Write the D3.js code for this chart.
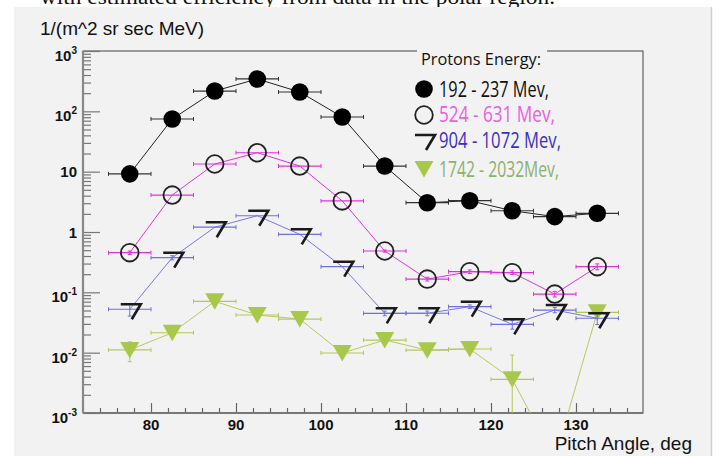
<!DOCTYPE html>
<html><head><meta charset="utf-8">
<script src="https://cdn.jsdelivr.net/npm/d3@7"></script>
<style>html,body{margin:0;padding:0;background:#fff;}svg{display:block;}</style>
</head><body>
<svg id="c" width="717" height="456"></svg>
<script>
// ---- data ----
const pitchAngles = [77.5, 82.5, 87.5, 92.5, 97.5, 102.5, 107.5, 112.5, 117.5, 122.5, 127.5, 132.5];
const halfBin = 2.5;
const flux192 = [9.2, 74.6, 217, 344, 209, 80.6, 12.4, 3.06, 3.30, 2.25, 1.80, 2.04];
const flux524 = [0.454, 4.10, 13.4, 20.6, 12.4, 3.27, 0.484, 0.166, 0.220, 0.212, 0.0937, 0.266];
const err524  = [0.03, 0, 0, 0, 0, 0, 0.02, 0.012, 0.015, 0.015, 0.01, 0.03];
const flux904 = [0.0524, 0.375, 1.20, 1.86, 0.916, 0.266, 0.0449, 0.045, 0.0578, 0.0295, 0.0509, 0.0372];
const err904  = [0.012, 0.03, 0, 0, 0, 0, 0.004, 0.004, 0.004, 0.005, 0.005, 0.008];
const flux1742 = [0.0111, 0.0214, 0.0709, 0.0421, 0.0361, 0.00987, 0.0162, 0.0110, 0.0115, 0.00362, 0.000173, 0.0467];
const err1742  = [0.004, 0, 0, 0, 0, 0, 0, 0, 0, 0.0055, 0, 0.005];
const seriesNames = ["192 - 237 Mev,", "524 - 631 Mev,", "904 - 1072 Mev,", "1742 - 2032Mev,"];
const yTickExps = [-3, -2, -1, 0, 1, 2, 3];
const xTicks = [80, 90, 100, 110, 120, 130];
const yTitle = "1/(m^2 sr sec MeV)";
const xTitle = "Pitch Angle, deg";
const legendTitle = "Protons Energy:";
const pageText = "with estimated efficiency from data in the polar region.";

// ---- layout ----
const svg = d3.select("#c");
const L = 83, R = 643, T = 51, B = 413;
const x = d3.scaleLinear().domain([72, 138]).range([L, L + 66 * 8.5]);
const y = d3.scaleLog().domain([1e-3, 1e3]).range([B, T]);

// page text at the very top (cut)
svg.append("text").attr("x", 40).attr("y", 4).attr("font-family", "Liberation Serif")
  .attr("font-size", 21).attr("textLength", 515).attr("lengthAdjust", "spacingAndGlyphs")
  .attr("fill", "#111").text(pageText);

// panel
svg.append("rect").attr("x", 14).attr("y", 7).attr("width", 697).attr("height", 449).attr("fill", "#f2f2f2");
svg.append("line").attr("x1", 711.5).attr("x2", 711.5).attr("y1", 7).attr("y2", 456).attr("stroke", "#cfcfcf").attr("stroke-width", 1.5);

// frame
svg.append("rect").attr("x", L).attr("y", T).attr("width", R - L).attr("height", B - T)
  .attr("fill", "none").attr("stroke", "#444").attr("stroke-width", 1);

// x axis
const xMinor = d3.range(74, 138, 2).filter(v => v % 10 !== 0);
const gx = svg.append("g").attr("transform", `translate(0,${B})`);
gx.call(d3.axisBottom(x).tickValues(xTicks).tickSize(-10).tickFormat(""));
gx.append("g").call(d3.axisBottom(x).tickValues(xMinor).tickSize(-5).tickFormat(""));
gx.selectAll(".domain").remove();
gx.selectAll("line").attr("stroke", "#666").attr("stroke-width", 1.2);
svg.append("line").attr("x1", L).attr("x2", R).attr("y1", B).attr("y2", B).attr("stroke", "#777").attr("stroke-width", 2);
svg.selectAll(".xl").data(xTicks).join("text").attr("x", d => x(d)).attr("y", B + 17)
  .attr("text-anchor", "middle").attr("font-family", "Liberation Sans, Arial").attr("font-weight", "bold")
  .attr("font-size", 15).attr("fill", "#111").text(d => d);

// y axis
const yMinor = [];
for (let e = -3; e < 3; e++) for (let m = 2; m <= 9; m++) yMinor.push(m * Math.pow(10, e));
const gy = svg.append("g").attr("transform", `translate(${L},0)`);
gy.call(d3.axisLeft(y).tickValues(yTickExps.map(e => Math.pow(10, e))).tickSize(-17).tickFormat(""));
gy.append("g").call(d3.axisLeft(y).tickValues(yMinor).tickSize(-8).tickFormat(""));
gy.selectAll(".domain").remove();
gy.selectAll("line").attr("stroke", "#777").attr("stroke-width", 1.2);
svg.append("line").attr("x1", L).attr("x2", L).attr("y1", T).attr("y2", B).attr("stroke", "#888").attr("stroke-width", 2.2);
yTickExps.forEach(e => {
  const v = Math.pow(10, e);
  const t = svg.append("text").attr("text-anchor", "end").attr("font-family", "Liberation Sans, Arial")
    .attr("font-weight", "bold").attr("font-size", 15).attr("fill", "#111").attr("x", 77);
  if (e === 0 || e === 1) {
    t.attr("y", y(v) + 5.5).text(e === 0 ? "1" : "10");
  } else {
    t.attr("y", y(v) + 10);
    t.append("tspan").text("10");
    t.append("tspan").attr("font-size", 10).attr("dy", -7).text(String(e));
  }
});

// titles
svg.append("text").attr("x", 40).attr("y", 35).attr("font-family", "Liberation Sans, Arial")
  .attr("font-size", 19).attr("fill", "#111").text(yTitle);
svg.append("text").attr("x", 692).attr("y", 450).attr("text-anchor", "end").attr("font-family", "Liberation Sans, Arial")
  .attr("font-size", 19).attr("fill", "#111").text(xTitle);

// ---- series ----
svg.append("clipPath").attr("id", "pa").append("rect").attr("x", L).attr("y", T).attr("width", R - L).attr("height", B - T);
const plot = svg.append("g").attr("clip-path", "url(#pa)");

const markers = {
  filled: g => g.append("circle").attr("r", 8.8).attr("fill", "#000"),
  open: g => g.append("circle").attr("r", 8.8).attr("fill", "none").attr("stroke", "#222").attr("stroke-width", 1.8),
  seven: g => g.append("path").attr("d", "M-9,-5 H11 L2,10").attr("fill", "none").attr("stroke", "#1a1a1a").attr("stroke-width", 2.6),
  tri: g => g.append("path").attr("d", "M-9.5,-8 H9.5 L0,8.5 Z").attr("fill", "#a9c84b")
};

function drawSeries(vals, errs, lineColor, errColor, lw, marker) {
  const g = plot.append("g");
  const line = d3.line().x((d, i) => x(pitchAngles[i])).y(d => y(d));
  g.append("path").attr("d", line(vals)).attr("fill", "none").attr("stroke", lineColor).attr("stroke-width", lw);
  vals.forEach((v, i) => {
    const cx = x(pitchAngles[i]), cy = y(v);
    const x0 = x(pitchAngles[i] - halfBin), x1 = x(pitchAngles[i] + halfBin);
    g.append("line").attr("x1", x0).attr("x2", x1).attr("y1", cy).attr("y2", cy).attr("stroke", errColor).attr("stroke-width", 1.2);
    [x0, x1].forEach(xx => g.append("line").attr("x1", xx).attr("x2", xx).attr("y1", cy - 2).attr("y2", cy + 2).attr("stroke", errColor).attr("stroke-width", 1));
    if (errs && errs[i] > 0) {
      const hi = y(v + errs[i]), lo = y(Math.max(v - errs[i], 1e-6));
      g.append("line").attr("x1", cx).attr("x2", cx).attr("y1", hi).attr("y2", lo).attr("stroke", errColor).attr("stroke-width", 1);
      [hi, lo].forEach(yy => g.append("line").attr("x1", cx - 2).attr("x2", cx + 2).attr("y1", yy).attr("y2", yy).attr("stroke", errColor).attr("stroke-width", 1));
    }
  });
  vals.forEach((v, i) => {
    const m = g.append("g").attr("transform", `translate(${x(pitchAngles[i])},${y(v)})`);
    markers[marker](m);
  });
}
drawSeries(flux1742, err1742, "#b9c95e", "#b3c85a", 1, "tri");
drawSeries(flux904, err904, "#6a6ae0", "#6f6fe0", 0.9, "seven");
drawSeries(flux524, err524, "#dd33dd", "#dd33dd", 1, "open");
drawSeries(flux192, null, "#222", "#333", 1, "filled");

// ---- legend ----
svg.append("rect").attr("x", 417).attr("y", 46).attr("width", 130).attr("height", 12).attr("fill", "#f2f2f2");
svg.append("text").attr("x", 421).attr("y", 65).attr("font-family", "Open Sans").attr("font-size", 17)
  .attr("textLength", 120).attr("lengthAdjust", "spacingAndGlyphs").attr("fill", "#111").text(legendTitle);
const legColors = ["#111", "#e860e0", "#3a30c0", "#8cb070"];
const legMarkers = ["filled", "open", "seven", "tri"];
const legY = [89, 115, 140, 169];
const legBase = [97, 122, 148, 177];
const legW = [110, 116, 122, 120];
seriesNames.forEach((s, i) => {
  const m = svg.append("g").attr("transform", `translate(${424},${legY[i]})`);
  markers[legMarkers[i]](m);
  svg.append("text").attr("x", 439).attr("y", legBase[i]).attr("font-family", "Open Sans").attr("font-size", 21)
    .attr("textLength", legW[i]).attr("lengthAdjust", "spacingAndGlyphs").attr("fill", legColors[i]).text(s);
});
</script>
</body></html>
